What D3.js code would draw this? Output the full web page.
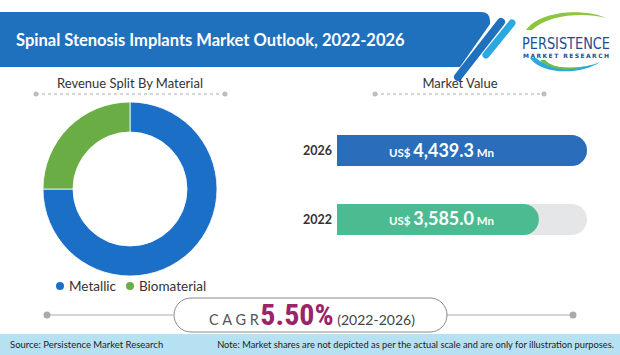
<!DOCTYPE html>
<html><head><meta charset="utf-8">
<script src="https://cdn.jsdelivr.net/npm/d3@7"></script>
<style>
html,body{margin:0;padding:0;background:#fff;}
svg{display:block;}
</style></head>
<body>
<svg id="c" width="620" height="355"></svg>
<script>
const title = "Spinal Stenosis Implants Market Outlook, 2022-2026";
const materials = ["Metallic", "Biomaterial"];
const shares = [75, 25];
const materialColors = ["#1c6fc6", "#6aad45"];
const years = ["2026", "2022"];
const values = [4439.3, 3585.0];
const barColors = ["#2a6dbb", "#4dbb92"];
const cagr = "5.50%";
const cagrPeriod = "(2022-2026)";
const source = "Source: Persistence Market Research";
const note = "Note: Market shares are not depicted as per the actual scale and are only for illustration purposes.";

const svg = d3.select("#c");
const F = "Lato, 'Open Sans', sans-serif";

// Banner
svg.append("path")
  .attr("d", "M0,12 L481,12 Q490,12 490,21 L490,24 L460,67 L0,67 Z")
  .attr("fill", "#1f71be");
svg.append("line").attr("x1",501).attr("y1",22).attr("x2",458).attr("y2",77)
  .attr("stroke","#1f71be").attr("stroke-width",8).attr("stroke-linecap","round");
svg.append("line").attr("x1",512).attr("y1",23).attr("x2",486).attr("y2",55)
  .attr("stroke","#2aa8e0").attr("stroke-width",7).attr("stroke-linecap","round");
svg.append("text").attr("x",16).attr("y",46).text(title)
  .attr("fill","#fff").attr("font-family",F).attr("font-weight","bold").attr("font-size",16.5);

// Logo
const lg = svg.append("g");
lg.append("path").attr("d","M526,30 C540,10 585,8 606,18 C585,12 548,14 532,30 Z").attr("fill","#8cc63f");
lg.append("path").attr("d","M530,58 C540,74 580,76 600,62 C582,70 548,70 536,58 Z").attr("fill","#2aa8e0");
lg.append("path").attr("d","M540,60 C548,70 570,72 586,66 C570,70 552,68 545,60 Z").attr("fill","#6cbf45");
lg.append("text").attr("x",566).attr("y",49).attr("text-anchor","middle").text("PERSISTENCE")
  .attr("fill","#1d4e8f").attr("font-family","'Liberation Sans Narrow', 'DejaVu Sans Condensed', sans-serif")
  .attr("font-size",16).attr("textLength",88).attr("lengthAdjust","spacingAndGlyphs");
lg.append("text").attr("x",566).attr("y",58).attr("text-anchor","middle").text("MARKET RESEARCH")
  .attr("fill","#1d4e8f").attr("font-family","'DejaVu Sans', sans-serif").attr("font-weight","bold")
  .attr("font-size",6).attr("textLength",86).attr("lengthAdjust","spacing");

// Section headers
function header(cx, x1, x2, txt){
  svg.append("text").attr("x",cx).attr("y",88).attr("text-anchor","middle").text(txt)
    .attr("fill","#333").attr("font-family",F).attr("font-size",13);
  svg.append("line").attr("x1",x1).attr("y1",94).attr("x2",x2).attr("y2",94)
    .attr("stroke","#c8c8c8").attr("stroke-width",1.3).attr("stroke-dasharray","3,3");
  [x1,x2].forEach(x=>svg.append("circle").attr("cx",x).attr("cy",94).attr("r",2.5).attr("fill","#bdbdbd"));
}
header(130, 36, 225, "Revenue Split By Material");
header(460, 375, 544, "Market Value");

// Donut
const pie = d3.pie().sort(null).value(d=>d);
const arc = d3.arc().innerRadius(57).outerRadius(87);
const dg = svg.append("g").attr("transform","translate(130,189)");
dg.selectAll("path").data(pie(shares)).join("path")
  .attr("d",arc).attr("fill",(d,i)=>materialColors[i]).attr("stroke","#fff").attr("stroke-width",0.8);

// Legend
const legX = [60, 130];
materials.forEach((m,i)=>{
  svg.append("circle").attr("cx",legX[i]).attr("cy",286).attr("r",4).attr("fill",materialColors[i]);
  svg.append("text").attr("x",legX[i]+9).attr("y",291).text(m)
    .attr("fill","#333").attr("font-family",F).attr("font-size",13.5);
});

// Bars
const x = d3.scaleLinear().domain([0, d3.max(values)]).range([0, 250]);
const y = d3.scaleBand().domain(years).range([100.5, 269.5]).paddingInner(0.55).paddingOuter(0.5);
const x0 = 337;
const bh = y.bandwidth();
function roundRight(w, h){ const r=h/2; return `M0,0 L${w-r},0 A${r},${r} 0 0 1 ${w-r},${h} L0,${h} Z`; }
years.forEach((yr,i)=>{
  const g = svg.append("g").attr("transform",`translate(${x0},${y(yr)})`);
  g.append("path").attr("d",roundRight(x(d3.max(values)),bh)).attr("fill","#e5e6e7");
  g.append("path").attr("d",roundRight(x(values[i]),bh)).attr("fill",barColors[i]);
  svg.append("text").attr("x",x0-5).attr("y",y(yr)+bh/2+4.5).attr("text-anchor","end").text(yr)
    .attr("fill","#333").attr("font-family",F).attr("font-weight","bold").attr("font-size",12.5);
  const t = g.append("text").attr("x",52).attr("y",bh/2+6).attr("fill","#fff").attr("font-family",F);
  t.append("tspan").text("US$ ").attr("font-size",11.5).attr("font-weight","bold");
  t.append("tspan").text(d3.format(",.1f")(values[i])).attr("font-size",18).attr("font-weight","bold");
  t.append("tspan").text(" Mn").attr("font-size",11.5).attr("font-weight","bold");
});

// CAGR
svg.append("line").attr("x1",47).attr("y1",315).attr("x2",173).attr("y2",315).attr("stroke","#aaa").attr("stroke-width",1);
svg.append("line").attr("x1",447).attr("y1",315).attr("x2",573).attr("y2",315).attr("stroke","#aaa").attr("stroke-width",1);
svg.append("circle").attr("cx",47).attr("cy",315).attr("r",3.5).attr("fill","#aaa");
svg.append("circle").attr("cx",573).attr("cy",315).attr("r",3.5).attr("fill","#aaa");
svg.append("rect").attr("x",174).attr("y",298).attr("width",273).attr("height",34).attr("rx",17)
  .attr("fill","#fff").attr("stroke","#888").attr("stroke-width",1);
const ct = svg.append("text").attr("x",209).attr("y",325).attr("font-family",F);
ct.append("tspan").text("CAGR").attr("font-size",14.5).attr("fill","#555").attr("letter-spacing",3.6);
ct.append("tspan").text(cagr).attr("dx",-2).attr("font-size",30).attr("font-weight","bold").attr("fill","#9b2468")
  .attr("font-family","'Roboto Condensed','Liberation Sans Narrow',sans-serif");
ct.append("tspan").text(" " + cagrPeriod).attr("font-size",14).attr("fill","#444");

// Footer
svg.append("rect").attr("x",0).attr("y",334).attr("width",620).attr("height",21).attr("fill","#b5e1f2");
svg.append("text").attr("x",10).attr("y",348).text(source).attr("font-family",F).attr("font-size",9.5).attr("fill","#222");
svg.append("text").attr("x",614).attr("y",348).attr("text-anchor","end").text(note).attr("font-family",F).attr("font-size",9.3).attr("fill","#222");
</script>
</body></html>
